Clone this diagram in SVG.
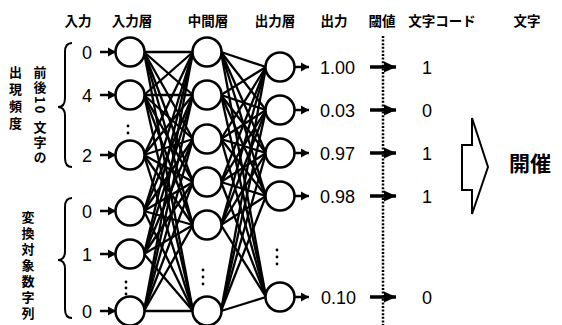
<svg xmlns="http://www.w3.org/2000/svg" width="562" height="325" viewBox="0 0 562 325">
<style>
.hd{font-family:"Liberation Sans","Noto Sans CJK JP",sans-serif;font-weight:bold;font-size:13.5px;text-anchor:middle;fill:#000}
.vt{font-family:"Noto Sans CJK JP","Liberation Sans",sans-serif;font-weight:bold;font-size:13px;fill:#000;writing-mode:vertical-rl}
.num{font-family:"Liberation Sans",Arial,sans-serif;font-size:18px;fill:#000}
.nd{fill:#fff;stroke:#000;stroke-width:2.5}
.ln line{stroke:#000;stroke-width:2.3}
.ar{stroke:#000;stroke-width:2.5;marker-end:url(#ah)}
.ar2{stroke:#000;stroke-width:3.5;marker-end:url(#ah2)}
.dot{fill:#000}
.br{fill:none;stroke:#000;stroke-width:2}
</style>
<defs>
<marker id="ah" markerUnits="userSpaceOnUse" markerWidth="9" markerHeight="10" refX="8" refY="5" orient="auto"><path d="M0,0.5 L8,5 L0,9.5 z" fill="#000"/></marker>
<marker id="ah2" markerUnits="userSpaceOnUse" markerWidth="13" markerHeight="12" refX="12" refY="6" orient="auto"><path d="M0,0.5 L12,6 L0,11.5 z" fill="#000"/></marker>
</defs>
<rect width="562" height="325" fill="#fff"/>
<g id="headers">
<text class="hd" x="78" y="26">入力</text>
<text class="hd" x="132" y="26">入力層</text>
<text class="hd" x="208" y="26">中間層</text>
<text class="hd" x="275" y="26">出力層</text>
<text class="hd" x="334" y="26">出力</text>
<text class="hd" x="382" y="26">閾値</text>
<text class="hd" x="442" y="26">文字コード</text>
<text class="hd" x="527" y="26">文字</text>
</g>
<g id="label-freq">
<text class="vt" x="15.5" y="66" style="letter-spacing:4px">出現頻度</text>
<text class="vt" x="40" y="66" style="letter-spacing:2px">前後10 文字の</text>
<path class="br" d="M72,43 Q65,43 65,52 L65,98 Q65,107 58,107 Q65,107 65,116 L65,158 Q65,167 72,167"/>
</g>
<g id="label-digits">
<text class="vt" x="28" y="211" style="letter-spacing:3px">変換対象数字列</text>
<path class="br" d="M72,198 Q65,198 65,207 L65,251 Q65,260 58,260 Q65,260 65,269 L65,309 Q65,318 72,318"/>
</g>
<g id="connectors">
<g class="ln">
<line x1="144" y1="52" x2="193" y2="52"/><line x1="144" y1="52" x2="193" y2="95"/><line x1="144" y1="52" x2="193" y2="139"/><line x1="144" y1="52" x2="193" y2="182"/><line x1="144" y1="52" x2="193" y2="225"/><line x1="144" y1="52" x2="193" y2="311"/>
<line x1="144" y1="95" x2="193" y2="52"/><line x1="144" y1="95" x2="193" y2="95"/><line x1="144" y1="95" x2="193" y2="139"/><line x1="144" y1="95" x2="193" y2="182"/><line x1="144" y1="95" x2="193" y2="225"/><line x1="144" y1="95" x2="193" y2="311"/>
<line x1="144" y1="155" x2="193" y2="52"/><line x1="144" y1="155" x2="193" y2="95"/><line x1="144" y1="155" x2="193" y2="139"/><line x1="144" y1="155" x2="193" y2="182"/><line x1="144" y1="155" x2="193" y2="225"/><line x1="144" y1="155" x2="193" y2="311"/>
<line x1="144" y1="211" x2="193" y2="52"/><line x1="144" y1="211" x2="193" y2="95"/><line x1="144" y1="211" x2="193" y2="139"/><line x1="144" y1="211" x2="193" y2="182"/><line x1="144" y1="211" x2="193" y2="225"/><line x1="144" y1="211" x2="193" y2="311"/>
<line x1="144" y1="254" x2="193" y2="52"/><line x1="144" y1="254" x2="193" y2="95"/><line x1="144" y1="254" x2="193" y2="139"/><line x1="144" y1="254" x2="193" y2="182"/><line x1="144" y1="254" x2="193" y2="225"/><line x1="144" y1="254" x2="193" y2="311"/>
<line x1="144" y1="311" x2="193" y2="52"/><line x1="144" y1="311" x2="193" y2="95"/><line x1="144" y1="311" x2="193" y2="139"/><line x1="144" y1="311" x2="193" y2="182"/><line x1="144" y1="311" x2="193" y2="225"/><line x1="144" y1="311" x2="193" y2="311"/>
<line x1="221" y1="52" x2="266" y2="67"/><line x1="221" y1="52" x2="266" y2="110"/><line x1="221" y1="52" x2="266" y2="153"/><line x1="221" y1="52" x2="266" y2="196"/><line x1="221" y1="52" x2="266" y2="297"/>
<line x1="221" y1="95" x2="266" y2="67"/><line x1="221" y1="95" x2="266" y2="110"/><line x1="221" y1="95" x2="266" y2="153"/><line x1="221" y1="95" x2="266" y2="196"/><line x1="221" y1="95" x2="266" y2="297"/>
<line x1="221" y1="139" x2="266" y2="67"/><line x1="221" y1="139" x2="266" y2="110"/><line x1="221" y1="139" x2="266" y2="153"/><line x1="221" y1="139" x2="266" y2="196"/><line x1="221" y1="139" x2="266" y2="297"/>
<line x1="221" y1="182" x2="266" y2="67"/><line x1="221" y1="182" x2="266" y2="110"/><line x1="221" y1="182" x2="266" y2="153"/><line x1="221" y1="182" x2="266" y2="196"/><line x1="221" y1="182" x2="266" y2="297"/>
<line x1="221" y1="225" x2="266" y2="67"/><line x1="221" y1="225" x2="266" y2="110"/><line x1="221" y1="225" x2="266" y2="153"/><line x1="221" y1="225" x2="266" y2="196"/><line x1="221" y1="225" x2="266" y2="297"/>
<line x1="221" y1="311" x2="266" y2="67"/><line x1="221" y1="311" x2="266" y2="110"/><line x1="221" y1="311" x2="266" y2="153"/><line x1="221" y1="311" x2="266" y2="196"/><line x1="221" y1="311" x2="266" y2="297"/>
</g>
<line class="ar" x1="100" y1="52" x2="116" y2="52"/>
<line class="ar" x1="100" y1="95" x2="116" y2="95"/>
<line class="ar" x1="100" y1="155" x2="116" y2="155"/>
<line class="ar" x1="100" y1="211" x2="116" y2="211"/>
<line class="ar" x1="100" y1="254" x2="116" y2="254"/>
<line class="ar" x1="100" y1="311" x2="116" y2="311"/>
<line class="ar" x1="294" y1="67" x2="309" y2="67"/>
<line class="ar" x1="294" y1="110" x2="309" y2="110"/>
<line class="ar" x1="294" y1="153" x2="309" y2="153"/>
<line class="ar" x1="294" y1="196" x2="309" y2="196"/>
<line class="ar" x1="294" y1="297" x2="309" y2="297"/>
<line class="ar2" x1="370" y1="67" x2="396" y2="67"/>
<line class="ar2" x1="370" y1="110" x2="396" y2="110"/>
<line class="ar2" x1="370" y1="153" x2="396" y2="153"/>
<line class="ar2" x1="370" y1="196" x2="396" y2="196"/>
<line class="ar2" x1="370" y1="297" x2="396" y2="297"/>
</g>
<g id="threshold-line"><line x1="383" y1="36" x2="383" y2="325" stroke="#000" stroke-width="2.5" stroke-dasharray="2 1.6"/></g>
<g id="input-layer">
<g id="in1"><circle class="nd" cx="130" cy="52" r="14.5"/><text class="num" x="87" y="58.5" text-anchor="middle">0</text></g>
<g id="in2"><circle class="nd" cx="130" cy="95" r="14.5"/><text class="num" x="87" y="101.5" text-anchor="middle">4</text></g>
<g id="in3"><circle class="nd" cx="130" cy="155" r="14.5"/><text class="num" x="87" y="161.5" text-anchor="middle">2</text></g>
<g id="in4"><circle class="nd" cx="130" cy="211" r="14.5"/><text class="num" x="87" y="217.5" text-anchor="middle">0</text></g>
<g id="in5"><circle class="nd" cx="130" cy="254" r="14.5"/><text class="num" x="87" y="260.5" text-anchor="middle">1</text></g>
<g id="in6"><circle class="nd" cx="130" cy="311" r="14.5"/><text class="num" x="87" y="317.5" text-anchor="middle">0</text></g>
<g id="in-dots"><circle class="dot" cx="128" cy="126" r="1.4"/><circle class="dot" cx="128" cy="133" r="1.4"/><circle class="dot" cx="126" cy="282" r="1.4"/><circle class="dot" cx="126" cy="288" r="1.4"/><circle class="dot" cx="126" cy="294" r="1.4"/></g>
</g>
<g id="hidden-layer">
<g id="h1"><circle class="nd" cx="207" cy="52" r="14.5"/></g>
<g id="h2"><circle class="nd" cx="207" cy="95" r="14.5"/></g>
<g id="h3"><circle class="nd" cx="207" cy="139" r="14.5"/></g>
<g id="h4"><circle class="nd" cx="207" cy="182" r="14.5"/></g>
<g id="h5"><circle class="nd" cx="207" cy="225" r="14.5"/></g>
<g id="h6"><circle class="nd" cx="207" cy="311" r="14.5"/></g>
<g id="h-dots"><circle class="dot" cx="203" cy="270" r="1.4"/><circle class="dot" cx="203" cy="277" r="1.4"/><circle class="dot" cx="203" cy="284" r="1.4"/></g>
</g>
<g id="output-layer">
<g id="o1"><circle class="nd" cx="280" cy="67" r="14.5"/><text class="num" x="320" y="73.5">1.00</text><text class="num" x="427" y="73.5" text-anchor="middle">1</text></g>
<g id="o2"><circle class="nd" cx="280" cy="110" r="14.5"/><text class="num" x="320" y="116.5">0.03</text><text class="num" x="427" y="116.5" text-anchor="middle">0</text></g>
<g id="o3"><circle class="nd" cx="280" cy="153" r="14.5"/><text class="num" x="320" y="159.5">0.97</text><text class="num" x="427" y="159.5" text-anchor="middle">1</text></g>
<g id="o4"><circle class="nd" cx="280" cy="196" r="14.5"/><text class="num" x="320" y="202.5">0.98</text><text class="num" x="427" y="202.5" text-anchor="middle">1</text></g>
<g id="o5"><circle class="nd" cx="280" cy="297" r="14.5"/><text class="num" x="321" y="303.5">0.10</text><text class="num" x="427" y="303.5" text-anchor="middle">0</text></g>
<g id="o-dots"><circle class="dot" cx="277" cy="250" r="1.4"/><circle class="dot" cx="277" cy="257" r="1.4"/><circle class="dot" cx="277" cy="264" r="1.4"/></g>
</g>
<g id="result">
<polygon points="462,145 472,145 472,118 488,167 472,214 472,190 462,190" fill="#fff" stroke="#000" stroke-width="2"/>
<text x="530" y="171" text-anchor="middle" style="font-family:'Noto Sans CJK JP',sans-serif;font-weight:bold;font-size:21px">開催</text>
</g>
</svg>
